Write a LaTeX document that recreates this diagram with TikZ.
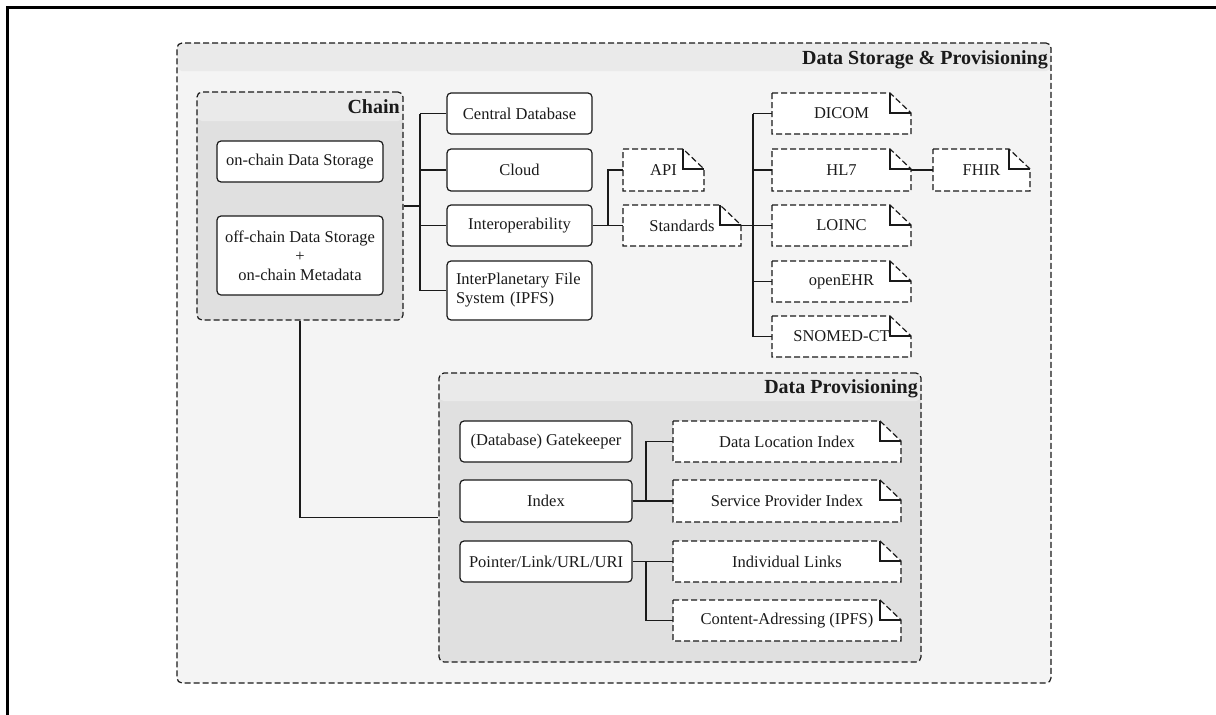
\documentclass[tikz,border=0pt]{standalone}
\usepackage{fontspec}
\setmainfont{Liberation Serif}
\usetikzlibrary{calc}

\definecolor{outerbody}{HTML}{F4F4F4}
\definecolor{outerhead}{HTML}{EAEAEA}
\definecolor{innerbody}{HTML}{E0E0E0}
\definecolor{innerhead}{HTML}{EAEAEA}
\definecolor{ink}{HTML}{1A1A1A}

% document-shaped node: dashed outline with a folded top-right corner
% #1 name, #2 centre x, #3 centre y, #4 width, #5 height, #6 text
\newcommand\docnode[6]{%
  \path[docfill] (#2-#4/2,#3-#5/2) -- (#2+#4/2-21,#3-#5/2) -- (#2+#4/2,#3-#5/2+20)
        -- (#2+#4/2,#3+#5/2) -- (#2-#4/2,#3+#5/2) -- cycle;
  \draw[foldline] (#2+#4/2-21,#3-#5/2) -- (#2+#4/2-21,#3-#5/2+20) -- (#2+#4/2,#3-#5/2+20);
  \node[doctext, minimum width=#4, minimum height=#5] (#1) at (#2,#3) {#6};}

\begin{document}
\begin{tikzpicture}[x=1pt,y=-1pt,
  every node/.style={font=\fontsize{16.5}{19}\selectfont, text=ink},
  frame/.style={line width=2.6pt, draw=black},
  group/.style={draw=ink, dash pattern=on 6pt off 3pt, line width=1.2pt,
                rounded corners=5pt, inner sep=0},
  grouptitle/.style={font=\fontsize{20}{24}\selectfont\bfseries, anchor=base east, inner sep=0},
  box/.style={draw=ink, fill=white, rounded corners=4pt, line width=1.2pt,
              inner sep=0, align=center},
  docfill/.style={fill=white, draw=ink, dash pattern=on 6pt off 3pt, line width=1.2pt},
  foldline/.style={draw=ink, line width=1.2pt},
  doctext/.style={inner sep=0, align=center},
  link/.style={draw=ink, line width=1.3pt},
]
\useasboundingbox (0,0) rectangle (1216,715);

% page frame (top and left edges)
\draw[frame] (7.5,715) -- (7.5,7.5) -- (1216,7.5);

% ---- groups ----
\node[group, fill=outerbody, minimum width=874, minimum height=640,
  path picture={\fill[outerhead] (path picture bounding box.north west)
     rectangle ([yshift=-28pt]path picture bounding box.north east);}]
  (storage) at (614,363) {};
\node[grouptitle] (storageT) at (1048,64) {Data Storage \& Provisioning};

\node[group, fill=innerbody, minimum width=206, minimum height=228,
  path picture={\fill[innerhead] (path picture bounding box.north west)
     rectangle ([yshift=-29pt]path picture bounding box.north east);}]
  (chain) at (300,206) {};
\node[grouptitle] (chainT) at (400,113) {Chain};

\node[group, fill=innerbody, minimum width=482, minimum height=289,
  path picture={\fill[innerhead] (path picture bounding box.north west)
     rectangle ([yshift=-28pt]path picture bounding box.north east);}]
  (dp) at (680,517.5) {};
\node[grouptitle] (dpT) at (918,393) {Data Provisioning};

% ---- chain ----
\node[box, minimum width=166, minimum height=41] (onchain) at (300,161.5) {on-chain Data Storage};
\node[box, minimum width=166, minimum height=79] (offchain) at (300,255.5)
  {off-chain Data Storage\\+\\on-chain Metadata};

% ---- storage options ----
\node[box, minimum width=145, minimum height=41] (cdb) at (519.5,113.5) {Central Database};
\node[box, minimum width=145, minimum height=42] (cloud) at (519.5,170) {Cloud};
\node[box, minimum width=145, minimum height=41] (interop) at (519.5,225.5) {Interoperability};
\node[box, minimum width=145, minimum height=59, align=left, text width=127,
  inner xsep=9pt] (ipfs) at (519.5,290.5) {InterPlanetary File\\System (IPFS)};

% ---- interoperability ----
\docnode{api}{663.5}{170}{81}{42}{API}
\docnode{std}{682}{225.5}{118}{41}{Standards}

\docnode{dicom}{841.5}{113.5}{139}{41}{DICOM}
\docnode{hl7}{841.5}{170}{139}{42}{HL7}
\docnode{loinc}{841.5}{225.5}{139}{41}{LOINC}
\docnode{openehr}{841.5}{281.5}{139}{41}{openEHR}
\docnode{snomed}{841.5}{336.5}{139}{41}{SNOMED-CT}
\docnode{fhir}{981.5}{170}{97}{42}{FHIR}

% ---- data provisioning ----
\node[box, minimum width=172, minimum height=41] (gate) at (546,441.5) {(Database) Gatekeeper};
\node[box, minimum width=172, minimum height=42] (index) at (546,501) {Index};
\node[box, minimum width=172, minimum height=41] (pointer) at (546,561.5) {Pointer/Link/URL/URI};

\docnode{dli}{787}{441.5}{228}{41}{Data Location Index}
\docnode{spi}{787}{501}{228}{42}{Service Provider Index}
\docnode{links}{787}{561.5}{228}{41}{Individual Links}
\docnode{cadr}{787}{620.5}{228}{41}{Content-Adressing (IPFS)}

% ---- connectors ----
\coordinate (tA) at (420,0);
\draw[link] (chain.east) -- (chain.east -| tA);
\draw[link] (cdb.west -| tA) -- (ipfs.west -| tA);
\foreach \n in {cdb,cloud,interop,ipfs}
  \draw[link] (\n.west) -- (\n.west -| tA);

\coordinate (tB) at (608,0);
\draw[link] (interop.east) -- (std.west);
\draw[link] (api.west) -| (tB |- std.west);

\coordinate (tC) at (753,0);
\draw[link] (std.east) -- (loinc.west);
\draw[link] (dicom.west -| tC) -- (snomed.west -| tC);
\foreach \n in {dicom,hl7,openehr,snomed}
  \draw[link] (\n.west) -- (\n.west -| tC);
\draw[link] (hl7.east) -- (fhir.west);

\draw[link] (chain.south) |- (dp.west);

\coordinate (tD) at (646,0);
\draw[link] (index.east) -- (index.east -| tD);
\draw[link] (dli.west) -| (tD |- spi.west);
\draw[link] (spi.west) -- (spi.west -| tD);
\draw[link] (pointer.east) -- (links.west);
\draw[link] (cadr.west) -| (tD |- links.west);
\end{tikzpicture}
\end{document}
